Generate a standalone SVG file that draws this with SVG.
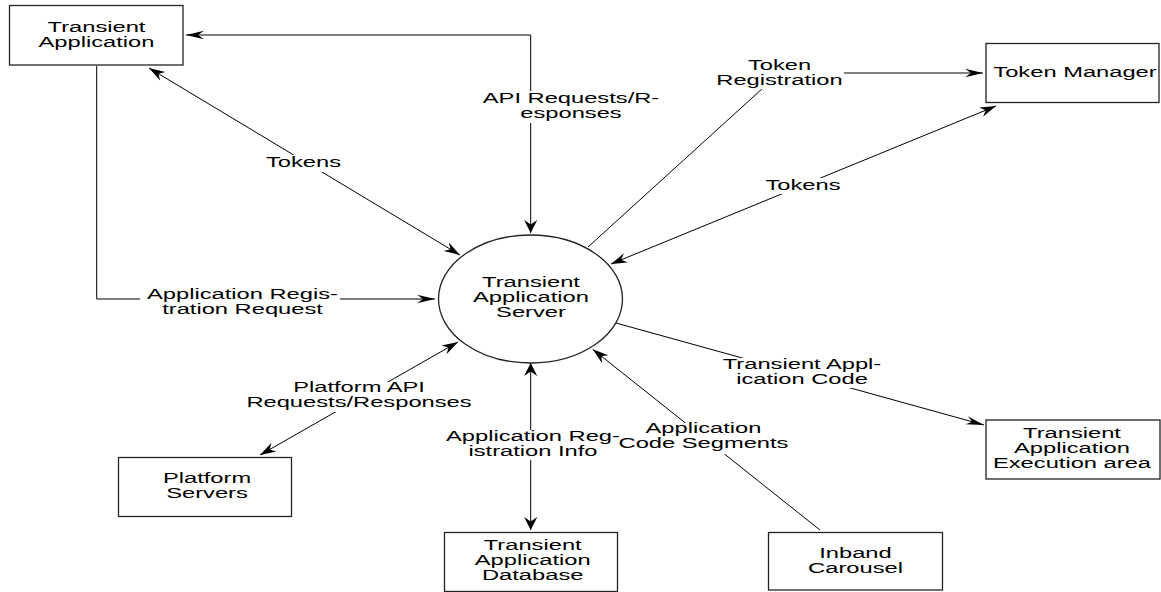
<svg xmlns="http://www.w3.org/2000/svg" width="1161" height="592" viewBox="0 0 1161 592">
<style>
  .box{fill:#fff;stroke:#222;stroke-width:1.3}
  .ln{fill:none;stroke:#000;stroke-width:1}
  .t{font-family:"Liberation Sans",Arial,sans-serif;font-size:15px;fill:#000;text-anchor:middle}
  .bg{fill:#fff;stroke:none}
</style>
<defs>
  <marker id="ah" viewBox="-20 -8 22 16" refX="0" refY="0" markerWidth="22" markerHeight="16" markerUnits="userSpaceOnUse" orient="auto-start-reverse" overflow="visible">
    <path d="M0,0 L-18,-4.2 L-12,0 L-18,4.2 Z" fill="#000"/>
  </marker>
  <marker id="av" viewBox="-20 -10 22 20" refX="0" refY="0" markerWidth="22" markerHeight="20" markerUnits="userSpaceOnUse" orient="auto-start-reverse" overflow="visible">
    <path d="M0,0 L-13,-6.6 L-8.5,0 L-13,6.6 Z" fill="#000"/>
  </marker>
  <marker id="ad" viewBox="-20 -10 22 20" refX="0" refY="0" markerWidth="22" markerHeight="20" markerUnits="userSpaceOnUse" orient="auto-start-reverse" overflow="visible">
    <path d="M0,0 L-16,-5 L-11,0 L-16,5 Z" fill="#000"/>
  </marker>
</defs>
<rect width="1161" height="592" fill="#fff"/>

<g id="connectors">
  <path class="ln" d="M186,35 H530.7 V233" marker-start="url(#ah)" marker-end="url(#av)"/>
  <path class="ln" d="M149,68 L460,255" marker-start="url(#ad)" marker-end="url(#ad)"/>
  <path class="ln" d="M96.7,66 V299 H435" marker-end="url(#ah)"/>
  <path class="ln" d="M588,247 L779.5,73 H983" marker-end="url(#ah)"/>
  <path class="ln" d="M611,264 L996,106" marker-start="url(#ad)" marker-end="url(#ad)"/>
  <path class="ln" d="M458,342 L260,455" marker-start="url(#ad)" marker-end="url(#ad)"/>
  <path class="ln" d="M530.7,363 V530" marker-start="url(#av)" marker-end="url(#av)"/>
  <path class="ln" d="M820,530 L592.7,349.3" marker-end="url(#ad)"/>
  <path class="ln" d="M616,323 L984,425" marker-end="url(#ah)"/>

  <g id="labels">
    <rect class="bg" x="482" y="91" width="178" height="32"/>
    <rect class="bg" x="263" y="155" width="81" height="17"/>
    <rect class="bg" x="140" y="288" width="200" height="30"/>
    <rect class="bg" x="716" y="58" width="128" height="31"/>
    <rect class="bg" x="764" y="178" width="79" height="16"/>
    <rect class="bg" x="244" y="382" width="229" height="30"/>
    <rect class="bg" x="444" y="430" width="178" height="30"/>
    <rect class="bg" x="619" y="423" width="170" height="31"/>
    <rect class="bg" x="721" y="358" width="162" height="30"/>

    <text class="t" transform="matrix(1.58 0 0 1 571 0)"><tspan x="0" y="103.5">API Requests/R-</tspan><tspan x="0" y="118.5">esponses</tspan></text>
    <text class="t" transform="matrix(1.58 0 0 1 303.5 0)"><tspan x="0" y="166.7">Tokens</tspan></text>
    <text class="t" transform="matrix(1.58 0 0 1 242.5 0)"><tspan x="0" y="299.5">Application Regis-</tspan><tspan x="0" y="314.5">tration Request</tspan></text>
    <text class="t" transform="matrix(1.58 0 0 1 779.5 0)"><tspan x="0" y="70.5">Token</tspan><tspan x="0" y="85.5">Registration</tspan></text>
    <text class="t" transform="matrix(1.58 0 0 1 803 0)"><tspan x="0" y="190">Tokens</tspan></text>
    <text class="t" transform="matrix(1.58 0 0 1 359 0)"><tspan x="0" y="392.5">Platform API</tspan><tspan x="0" y="407.5">Requests/Responses</tspan></text>
    <text class="t" transform="matrix(1.58 0 0 1 533 0)"><tspan x="0" y="441.5">Application Reg-</tspan><tspan x="0" y="456.5">istration Info</tspan></text>
    <text class="t" transform="matrix(1.58 0 0 1 703.5 0)"><tspan x="0" y="433.5">Application</tspan><tspan x="0" y="448.5">Code Segments</tspan></text>
    <text class="t" transform="matrix(1.58 0 0 1 802 0)"><tspan x="0" y="369">Transient Appl-</tspan><tspan x="0" y="384">ication Code</tspan></text>
  </g>
</g>

<g id="n-transient-application">
  <rect class="box" x="9.5" y="5.5" width="173.5" height="59.5"/>
  <text class="t" transform="matrix(1.58 0 0 1 96.5 0)"><tspan x="0" y="32">Transient</tspan><tspan x="0" y="47">Application</tspan></text>
</g>
<g id="n-server">
  <ellipse class="box" cx="530.5" cy="299" rx="92" ry="64"/>
  <text class="t" transform="matrix(1.58 0 0 1 531 0)"><tspan x="0" y="287">Transient</tspan><tspan x="0" y="302">Application</tspan><tspan x="0" y="317">Server</tspan></text>
</g>
<g id="n-token-manager">
  <rect class="box" x="986" y="43.5" width="173" height="59"/>
  <text class="t" transform="matrix(1.58 0 0 1 1075 0)"><tspan x="0" y="77">Token Manager</tspan></text>
</g>
<g id="n-platform-servers">
  <rect class="box" x="118.5" y="457.5" width="173" height="59"/>
  <text class="t" transform="matrix(1.58 0 0 1 207 0)"><tspan x="0" y="483.3">Platform</tspan><tspan x="0" y="498.3">Servers</tspan></text>
</g>
<g id="n-database">
  <rect class="box" x="444.5" y="532.5" width="173" height="59"/>
  <text class="t" transform="matrix(1.58 0 0 1 532.7 0)"><tspan x="0" y="550.5">Transient</tspan><tspan x="0" y="565.5">Application</tspan><tspan x="0" y="580.5">Database</tspan></text>
</g>
<g id="n-inband-carousel">
  <rect class="box" x="768.5" y="532.5" width="174" height="57.5"/>
  <text class="t" transform="matrix(1.58 0 0 1 855.5 0)"><tspan x="0" y="558.3">Inband</tspan><tspan x="0" y="573.3">Carousel</tspan></text>
</g>
<g id="n-execution-area">
  <rect class="box" x="986" y="420" width="174" height="59"/>
  <text class="t" transform="matrix(1.58 0 0 1 1072 0)"><tspan x="0" y="438">Transient</tspan><tspan x="0" y="453">Application</tspan><tspan x="0" y="468">Execution area</tspan></text>
</g>
</svg>
